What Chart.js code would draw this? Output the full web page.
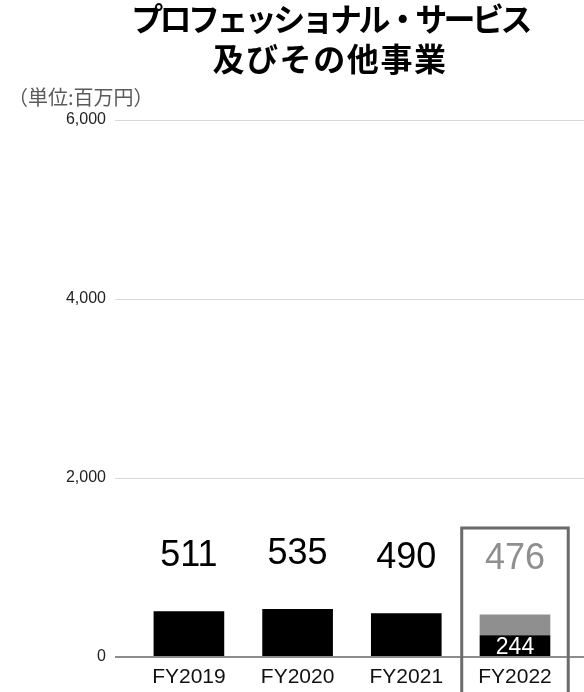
<!DOCTYPE html>
<html lang="ja">
<head>
<meta charset="utf-8">
<script src="https://cdn.jsdelivr.net/npm/chart.js@4.4.1/dist/chart.umd.min.js"></script>
<style>
  html, body { margin: 0; padding: 0; background: #fff; overflow: hidden; }
  #chart { display: block; }
</style>
</head>
<body>
<canvas id="chart" width="584" height="692"></canvas>
<script>
// data
const titleLines = ["プロフェッショナル・サービス", "及びその他事業"];
const unitLabel = "（単位:百万円）";
const categories = ["FY2019", "FY2020", "FY2021", "FY2022"];
const baseValues = [511, 535, 490, 244];     // black part
const extraValues = [null, null, null, 232]; // grey part (FY2022 only)
const yTicks = [0, 2000, 4000, 6000];
const highlightIndex = 3;

const totals = baseValues.map((v, i) => v + (extraValues[i] || 0));

const BLACK = "#000000";
const GREY = "#8f8f8f";

// title, unit label, value labels and the frame round FY2022
const overlayPlugin = {
  id: "overlay",
  afterDraw(chart) {
    const ctx = chart.ctx;
    const x = chart.scales.x;
    const y = chart.scales.y;

    ctx.save();
    ctx.fillStyle = "#000";
    ctx.textAlign = "center";
    ctx.textBaseline = "middle";
    ctx.font = "bold 32px 'Noto Sans CJK JP', sans-serif";
    ctx.letterSpacing = "-3.6px";
    ctx.fillText(titleLines[0], 330, 19);
    ctx.letterSpacing = "1.6px";
    ctx.fillText(titleLines[1], 330, 59);
    ctx.letterSpacing = "0px";

    ctx.fillStyle = "#5a5a5a";
    ctx.textAlign = "left";
    ctx.font = "20px 'Noto Sans CJK JP', sans-serif";
    ctx.fillText(unitLabel, 8, 97);

    // totals above the bars
    ctx.textAlign = "center";
    ctx.textBaseline = "alphabetic";
    ctx.font = "36px 'Liberation Sans', Arial, sans-serif";
    totals.forEach((t, i) => {
      const px = x.getPixelForValue(i);
      const top = y.getPixelForValue(t);
      ctx.fillStyle = i === highlightIndex ? GREY : BLACK;
      ctx.fillText(String(t), px, top - 45);
    });

    // value inside the black part of FY2022
    const base = baseValues[highlightIndex];
    const segTop = y.getPixelForValue(base);
    const segBottom = y.getPixelForValue(0);
    ctx.fillStyle = "#fff";
    ctx.font = "23px 'Liberation Sans', Arial, sans-serif";
    ctx.fillText(String(base), x.getPixelForValue(highlightIndex), (segTop + segBottom) / 2 + 8);

    // frame
    const left = x.getPixelForValue(highlightIndex - 0.49);
    const right = x.getPixelForValue(highlightIndex + 0.49);
    ctx.strokeStyle = "#6b6b6b";
    ctx.lineWidth = 3;
    ctx.beginPath();
    ctx.moveTo(left, chart.height + 5);
    ctx.lineTo(left, 528);
    ctx.lineTo(right, 528);
    ctx.lineTo(right, chart.height + 5);
    ctx.stroke();
    ctx.restore();
  },
};

Chart.defaults.font.family = "'Liberation Sans', Arial, sans-serif";

const ctx = document.getElementById("chart").getContext("2d");
new Chart(ctx, {
  type: "bar",
  data: {
    datasets: [
      {
        label: "base",
        data: baseValues.map((v, i) => ({ x: i, y: v })),
        backgroundColor: BLACK,
        barPercentage: 0.65,
        categoryPercentage: 1,
      },
      {
        label: "extra",
        data: extraValues.map((v, i) => ({ x: i, y: v })).filter((d) => d.y !== null),
        backgroundColor: GREY,
        barPercentage: 0.65,
        categoryPercentage: 1,
      },
    ],
  },
  options: {
    responsive: false,
    animation: false,
    layout: { padding: { top: 120, left: 0, right: 0, bottom: 0 } },
    plugins: {
      legend: { display: false },
      tooltip: { enabled: false },
      title: { display: false },
    },
    scales: {
      x: {
        type: "linear",
        stacked: true,
        offset: false,
        min: -0.68,
        max: 3.635,
        grid: { display: false },
        border: { display: false },
        afterBuildTicks: (s) => {
          s.ticks = categories.map((_, i) => ({ value: i }));
        },
        afterFit: (s) => {
          s.height = 35;
        },
        ticks: {
          autoSkip: false,
          maxRotation: 0,
          padding: 0,
          color: "#111",
          font: { size: 21 },
          callback: (v) => categories[v] ?? "",
        },
      },
      y: {
        stacked: true,
        min: 0,
        max: 6000,
        afterBuildTicks: (s) => {
          s.ticks = yTicks.map((v) => ({ value: v }));
        },
        afterFit: (s) => {
          s.width = 115;
        },
        border: { display: false },
        grid: {
          drawTicks: false,
          color: (c) => (c.tick && c.tick.value === 0 ? "#8c8c8c" : "#d9d9d9"),
          lineWidth: (c) => (c.tick && c.tick.value === 0 ? 2 : 1),
        },
        ticks: {
          padding: 9,
          color: "#222",
          font: { size: 16 },
          callback: (v) => v.toLocaleString("en-US"),
        },
      },
    },
  },
  plugins: [overlayPlugin],
});
</script>
</body>
</html>
